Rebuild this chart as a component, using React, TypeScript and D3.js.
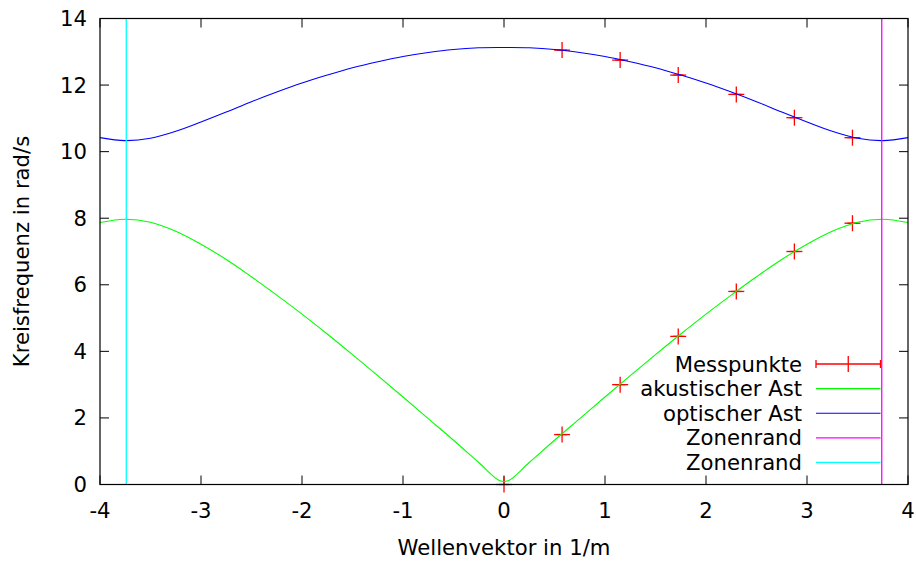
import React, { useEffect, useRef } from "react";
import * as d3 from "d3";

// wave vector samples for the two branches
const kSamples = [
  -4, -3.75, -3.5, -3.25, -3, -2.75, -2.5, -2.25, -2, -1.75, -1.5, -1.25, -1, -0.75, -0.5, -0.25, -0.04,
  0.04, 0.25, 0.5, 0.75, 1, 1.25, 1.5, 1.75, 2, 2.25, 2.5, 2.75, 3, 3.25, 3.5, 3.75, 4,
];
const acousticBranch = [
  7.87, 7.97, 7.88, 7.61, 7.22, 6.76, 6.24, 5.69, 5.12, 4.52, 3.9, 3.27, 2.63, 1.98, 1.33, 0.66, 0.11,
  0.11, 0.66, 1.33, 1.98, 2.63, 3.27, 3.9, 4.52, 5.12, 5.69, 6.24, 6.76, 7.22, 7.61, 7.88, 7.97, 7.87,
];
const opticalBranch = [
  10.42, 10.33, 10.4, 10.61, 10.89, 11.19, 11.5, 11.79, 12.06, 12.3, 12.52, 12.7, 12.86, 12.98, 13.07, 13.12, 13.13,
  13.13, 13.12, 13.07, 12.98, 12.86, 12.7, 12.52, 12.3, 12.06, 11.79, 11.5, 11.19, 10.89, 10.61, 10.4, 10.33, 10.42,
];

// measured points
const measK = [0, 0.575, 1.15, 1.725, 2.3, 2.875, 3.45, 0.575, 1.15, 1.725, 2.3, 2.875, 3.45];
const measOmega = [0, 1.5, 3.0, 4.45, 5.8, 7.0, 7.85, 13.05, 12.75, 12.3, 11.72, 11.02, 10.42];
const measKErr = [0.05, 0.05, 0.05, 0.05, 0.05, 0.05, 0.05, 0.05, 0.05, 0.05, 0.05, 0.05, 0.05];

// zone boundaries
const zoneEdges = [3.74, -3.74];

const xTicks = [-4, -3, -2, -1, 0, 1, 2, 3, 4];
const yTicks = [0, 2, 4, 6, 8, 10, 12, 14];

const legendLabels = ["Messpunkte", "akustischer Ast", "optischer Ast", "Zonenrand", "Zonenrand"];

function App() {
  const ref = useRef<SVGSVGElement | null>(null);

  useEffect(() => {
    const width = 916;
    const height = 561;
    const margin = { top: 18.5, right: 8, bottom: 76.5, left: 100 };
    const font = "DejaVu Sans, sans-serif";
    const fontSize = 21.2;

    const svg = d3.select(ref.current);
    svg.selectAll("*").remove();

    const x = d3.scaleLinear().domain([-4, 4]).range([margin.left, width - margin.right]);
    const y = d3.scaleLinear().domain([0, 14]).range([height - margin.bottom, margin.top]);
    const [x0, x1] = x.range();
    const [y0, y1] = y.range();

    svg.append("rect").attr("width", width).attr("height", height).attr("fill", "#fff");

    const clip = svg.append("defs").append("clipPath").attr("id", "plotclip");
    clip.append("rect").attr("x", x0).attr("y", y1).attr("width", x1 - x0).attr("height", y0 - y1);

    // ticks (inward, mirrored)
    const tl = 9;
    const ticks = svg.append("g").attr("stroke", "#000").attr("stroke-width", 1);
    xTicks.forEach((t) => {
      ticks.append("line").attr("x1", x(t)).attr("x2", x(t)).attr("y1", y0).attr("y2", y0 - tl);
      ticks.append("line").attr("x1", x(t)).attr("x2", x(t)).attr("y1", y1).attr("y2", y1 + tl);
    });
    yTicks.forEach((t) => {
      ticks.append("line").attr("x1", x0).attr("x2", x0 + tl).attr("y1", y(t)).attr("y2", y(t));
      ticks.append("line").attr("x1", x1).attr("x2", x1 - tl).attr("y1", y(t)).attr("y2", y(t));
    });

    svg
      .append("g")
      .selectAll("text")
      .data(xTicks)
      .enter()
      .append("text")
      .attr("x", (d) => x(d))
      .attr("y", y0 + 33)
      .attr("text-anchor", "middle")
      .style("font-family", font)
      .style("font-size", `${fontSize}px`)
      .text((d) => d);

    svg
      .append("g")
      .selectAll("text")
      .data(yTicks)
      .enter()
      .append("text")
      .attr("x", x0 - 13)
      .attr("y", (d) => y(d) + 7.5)
      .attr("text-anchor", "end")
      .style("font-family", font)
      .style("font-size", `${fontSize}px`)
      .text((d) => d);

    svg
      .append("text")
      .attr("x", (x0 + x1) / 2)
      .attr("y", 555)
      .attr("text-anchor", "middle")
      .style("font-family", font)
      .style("font-size", `${fontSize}px`)
      .text("Wellenvektor in 1/m");

    svg
      .append("text")
      .attr("transform", `translate(29, ${(y0 + y1) / 2}) rotate(-90)`)
      .attr("text-anchor", "middle")
      .style("font-family", font)
      .style("font-size", `${fontSize}px`)
      .text("Kreisfrequenz in rad/s");

    // Messpunkte (not clipped, like gnuplot points)
    const red = "#ff0000";
    const pts = svg.append("g").attr("stroke", red).attr("stroke-width", 1.3).attr("fill", "none");
    measK.forEach((k, i) => {
      const px = x(k);
      const py = y(measOmega[i]);
      pts.append("line").attr("x1", x(k - measKErr[i])).attr("x2", x(k + measKErr[i])).attr("y1", py).attr("y2", py);
      pts.append("line").attr("x1", px - 8).attr("x2", px + 8).attr("y1", py).attr("y2", py);
      pts.append("line").attr("x1", px).attr("x2", px).attr("y1", py - 8).attr("y2", py + 8);
    });

    const plot = svg.append("g").attr("clip-path", "url(#plotclip)");

    const line = d3
      .line<number>()
      .x((_, i) => x(kSamples[i]))
      .y((d) => y(d))
      .curve(d3.curveCatmullRom.alpha(0.5));

    plot.append("path").attr("d", line(acousticBranch)).attr("fill", "none").attr("stroke", "#00ff00").attr("stroke-width", 1.1);
    plot.append("path").attr("d", line(opticalBranch)).attr("fill", "none").attr("stroke", "#0000ff").attr("stroke-width", 1.1);

    const zoneColors = ["#ff00ff", "#00ffff"];
    zoneEdges.forEach((z, i) => {
      plot
        .append("line")
        .attr("x1", x(z))
        .attr("x2", x(z))
        .attr("y1", y0)
        .attr("y2", y1)
        .attr("stroke", zoneColors[i])
        .attr("stroke-width", 1.3);
    });

    // legend
    const legX0 = 816;
    const legX1 = 880.5;
    const legTextX = 802;
    const legY = 364;
    const legStep = 24.6;
    const legColors = [red, "#00ff00", "#0000ff", "#ff00ff", "#00ffff"];
    const leg = svg.append("g");
    legendLabels.forEach((lab, i) => {
      const ly = legY + i * legStep;
      leg
        .append("text")
        .attr("x", legTextX)
        .attr("y", ly + 7.5)
        .attr("text-anchor", "end")
        .style("font-family", font)
        .style("font-size", `${fontSize}px`)
        .text(lab);
      leg
        .append("line")
        .attr("x1", legX0)
        .attr("x2", legX1)
        .attr("y1", ly)
        .attr("y2", ly)
        .attr("stroke", legColors[i])
        .attr("stroke-width", i === 2 ? 1.1 : 1.3);
      if (i === 0) {
        [legX0, legX1].forEach((cx) => {
          leg.append("line").attr("x1", cx).attr("x2", cx).attr("y1", ly - 4).attr("y2", ly + 4).attr("stroke", red).attr("stroke-width", 1.3);
        });
        const cx = (legX0 + legX1) / 2;
        leg.append("line").attr("x1", cx).attr("x2", cx).attr("y1", ly - 8).attr("y2", ly + 8).attr("stroke", red).attr("stroke-width", 1.3);
      }
    });

    // border
    svg
      .append("rect")
      .attr("x", x0)
      .attr("y", y1)
      .attr("width", x1 - x0)
      .attr("height", y0 - y1)
      .attr("fill", "none")
      .attr("stroke", "#000")
      .attr("stroke-width", 1.2);
  }, []);

  return (
    <svg
      ref={ref}
      width={916}
      height={561}
      style={{ position: "absolute", left: 0, top: 0, display: "block" }}
    />
  );
}

export default App;
